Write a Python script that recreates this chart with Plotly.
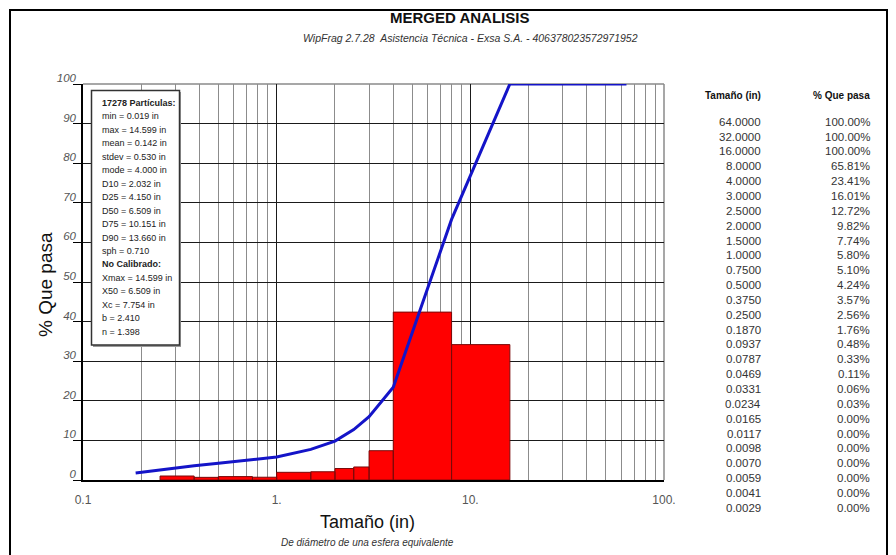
import plotly.graph_objects as go

# Sieve table: size (in) and cumulative % passing
sizes_in = [64.0, 32.0, 16.0, 8.0, 4.0, 3.0, 2.5, 2.0, 1.5, 1.0, 0.75, 0.5, 0.375,
            0.25, 0.187, 0.0937, 0.0787, 0.0469, 0.0331, 0.0234, 0.0165, 0.0117,
            0.0098, 0.0070, 0.0059, 0.0041, 0.0029]
pct_passing = [100.00, 100.00, 100.00, 65.81, 23.41, 16.01, 12.72, 9.82, 7.74, 5.80,
               5.10, 4.24, 3.57, 2.56, 1.76, 0.48, 0.33, 0.11, 0.06, 0.03, 0.00,
               0.00, 0.00, 0.00, 0.00, 0.00, 0.00]

# Histogram classes (in) and % retained in each class
bin_lo = [0.25, 0.375, 0.5, 0.75, 1.0, 1.5, 2.0, 2.5, 3.0, 4.0, 8.0]
bin_hi = [0.375, 0.5, 0.75, 1.0, 1.5, 2.0, 2.5, 3.0, 4.0, 8.0, 16.0]
bin_pct = [1.01, 0.67, 0.86, 0.70, 1.94, 2.08, 2.90, 3.29, 7.40, 42.40, 34.19]

# Smallest size drawn on the cumulative curve
curve_min_size = 0.187

stats_lines = [
    ("17278 Partículas:", True),
    ("min = 0.019 in", False),
    ("max = 14.599 in", False),
    ("mean = 0.142 in", False),
    ("stdev = 0.530 in", False),
    ("mode = 4.000 in", False),
    ("D10 = 2.032 in", False),
    ("D25 = 4.150 in", False),
    ("D50 = 6.509 in", False),
    ("D75 = 10.151 in", False),
    ("D90 = 13.660 in", False),
    ("sph = 0.710", False),
    ("No Calibrado:", True),
    ("Xmax = 14.599 in", False),
    ("X50 = 6.509 in", False),
    ("Xc = 7.754 in", False),
    ("b = 2.410", False),
    ("n = 1.398", False),
]

x_tick_vals = [0.1, 1, 10, 100]
x_tick_text = ["0.1", "1.", "10.", "100."]
y_tick_vals = [0, 10, 20, 30, 40, 50, 60, 70, 80, 90, 100]

FONT = "Liberation Sans, Arial, sans-serif"

W, H = 896, 555
ML, MR, MT, MB = 83, 232, 84, 75
PW, PH = W - ML - MR, H - MT - MB


def px(x):
    return (x - ML) / PW


def py(y):
    return (H - MB - y) / PH


fig = go.Figure()

# Histogram bars as closed polygons on the log axis
bx, by = [], []
for lo, hi, h in zip(bin_lo, bin_hi, bin_pct):
    bx += [lo, lo, hi, hi, lo, None]
    by += [0, h, h, 0, 0, None]
fig.add_trace(go.Scatter(
    x=bx, y=by, mode="lines", fill="toself", fillcolor="#ff0000",
    line=dict(color="#7a0a0a", width=1), hoverinfo="skip", showlegend=False,
))

# Cumulative passing curve
pairs = sorted((s, p) for s, p in zip(sizes_in, pct_passing) if s >= curve_min_size)
fig.add_trace(go.Scatter(
    x=[s for s, _ in pairs], y=[p for _, p in pairs], mode="lines",
    line=dict(color="#1414c8", width=3), showlegend=False,
))

minor_vals = [m * 10 ** e for e in (-1, 0, 1) for m in range(2, 10)]

fig.update_xaxes(
    type="log", range=[-1, 2], tickmode="array", tickvals=x_tick_vals,
    ticktext=x_tick_text, ticks="", showgrid=True, gridcolor="#1a1a1a",
    gridwidth=1, showline=True, linecolor="#000000", linewidth=1.5,
    zeroline=False, ticklabelstandoff=8,
    tickfont=dict(family=FONT, size=12, color="#555555"),
    minor=dict(tickmode="array", tickvals=minor_vals, showgrid=True,
               gridcolor="#8c8c8c", gridwidth=1, ticks=""),
)
fig.update_yaxes(
    range=[0, 100], tickmode="array", tickvals=y_tick_vals, ticks="outside",
    ticklen=8, tickcolor="#000000", tickwidth=1, showgrid=True,
    gridcolor="#1a1a1a", gridwidth=1, showline=True, linecolor="#000000",
    linewidth=1.5, zeroline=False, ticklabelstandoff=-5, ticklabelshift=-6,
    tickfont=dict(family=FONT, size=11.5, color="#555555", style="italic"),
)

shapes = [
    # outer frame
    dict(type="rect", xref="paper", yref="paper", x0=px(10), x1=px(887),
         y0=py(600), y1=py(10), line=dict(color="#000000", width=2),
         fillcolor="rgba(0,0,0,0)", layer="below"),
    # top and right plot borders
    dict(type="line", xref="paper", yref="paper", x0=0, x1=1, y0=1, y1=1,
         line=dict(color="#8a8a8a", width=1.5), layer="between"),
    dict(type="line", xref="paper", yref="paper", x0=1, x1=1, y0=0, y1=1,
         line=dict(color="#8a8a8a", width=1.5), layer="between"),
    # statistics box
    dict(type="rect", xref="paper", yref="paper", x0=px(93), x1=px(181),
         y0=py(347), y1=py(92), line=dict(width=0), fillcolor="#9a9a9a",
         layer="above"),
    dict(type="rect", xref="paper", yref="paper", x0=px(91.5), x1=px(179.5),
         y0=py(345), y1=py(90.5), line=dict(color="#333333", width=1.5),
         fillcolor="#ffffff", layer="above"),
]

ann = []
ann.append(dict(text="<b>MERGED ANALISIS</b>", x=px(459), y=py(18),
                font=dict(family=FONT, size=15, color="#111111")))
ann.append(dict(text="WipFrag 2.7.28  Asistencia Técnica - Exsa S.A. - 406378023572971952",
                x=px(471), y=py(38),
                font=dict(family=FONT, size=10.5, color="#333333", style="italic")))
ann.append(dict(text="% Que pasa", x=px(45), y=py(285), textangle=-90,
                font=dict(family=FONT, size=19, color="#111111")))
ann.append(dict(text="Tamaño (in)", x=px(367), y=py(522),
                font=dict(family=FONT, size=18, color="#111111")))
ann.append(dict(text="De diámetro de una esfera equivalente", x=px(367), y=py(542),
                font=dict(family=FONT, size=10, color="#333333", style="italic")))

for i, (line, bold) in enumerate(stats_lines):
    ann.append(dict(text=f"<b>{line}</b>" if bold else line, x=px(100),
                    y=py(103 + 13.45 * i), xanchor="left",
                    font=dict(family=FONT, size=9, color="#222222")))

# Size / % passing table
ann.append(dict(text="<b>Tamaño (in)</b>", x=px(763), y=py(96), xanchor="right",
                font=dict(family=FONT, size=10, color="#111111")))
ann.append(dict(text="<b>% Que pasa</b>", x=px(872), y=py(96), xanchor="right",
                font=dict(family=FONT, size=10, color="#111111")))
for i, (s, p) in enumerate(zip(sizes_in, pct_passing)):
    yy = py(121.7 + 14.85 * i)
    ann.append(dict(text=f"{s:.4f}", x=px(763), y=yy, xanchor="right",
                    font=dict(family=FONT, size=11.5, color="#333333")))
    ann.append(dict(text=f"{p:.2f}%", x=px(872), y=yy, xanchor="right",
                    font=dict(family=FONT, size=11.5, color="#333333")))

for a in ann:
    a.setdefault("xanchor", "center")
    a.update(xref="paper", yref="paper", yanchor="middle", showarrow=False)

fig.update_layout(
    width=W, height=H, margin=dict(l=ML, r=MR, t=MT, b=MB),
    paper_bgcolor="#ffffff", plot_bgcolor="#ffffff",
    shapes=shapes, annotations=ann, showlegend=False,
)

fig.write_html("out.html")
